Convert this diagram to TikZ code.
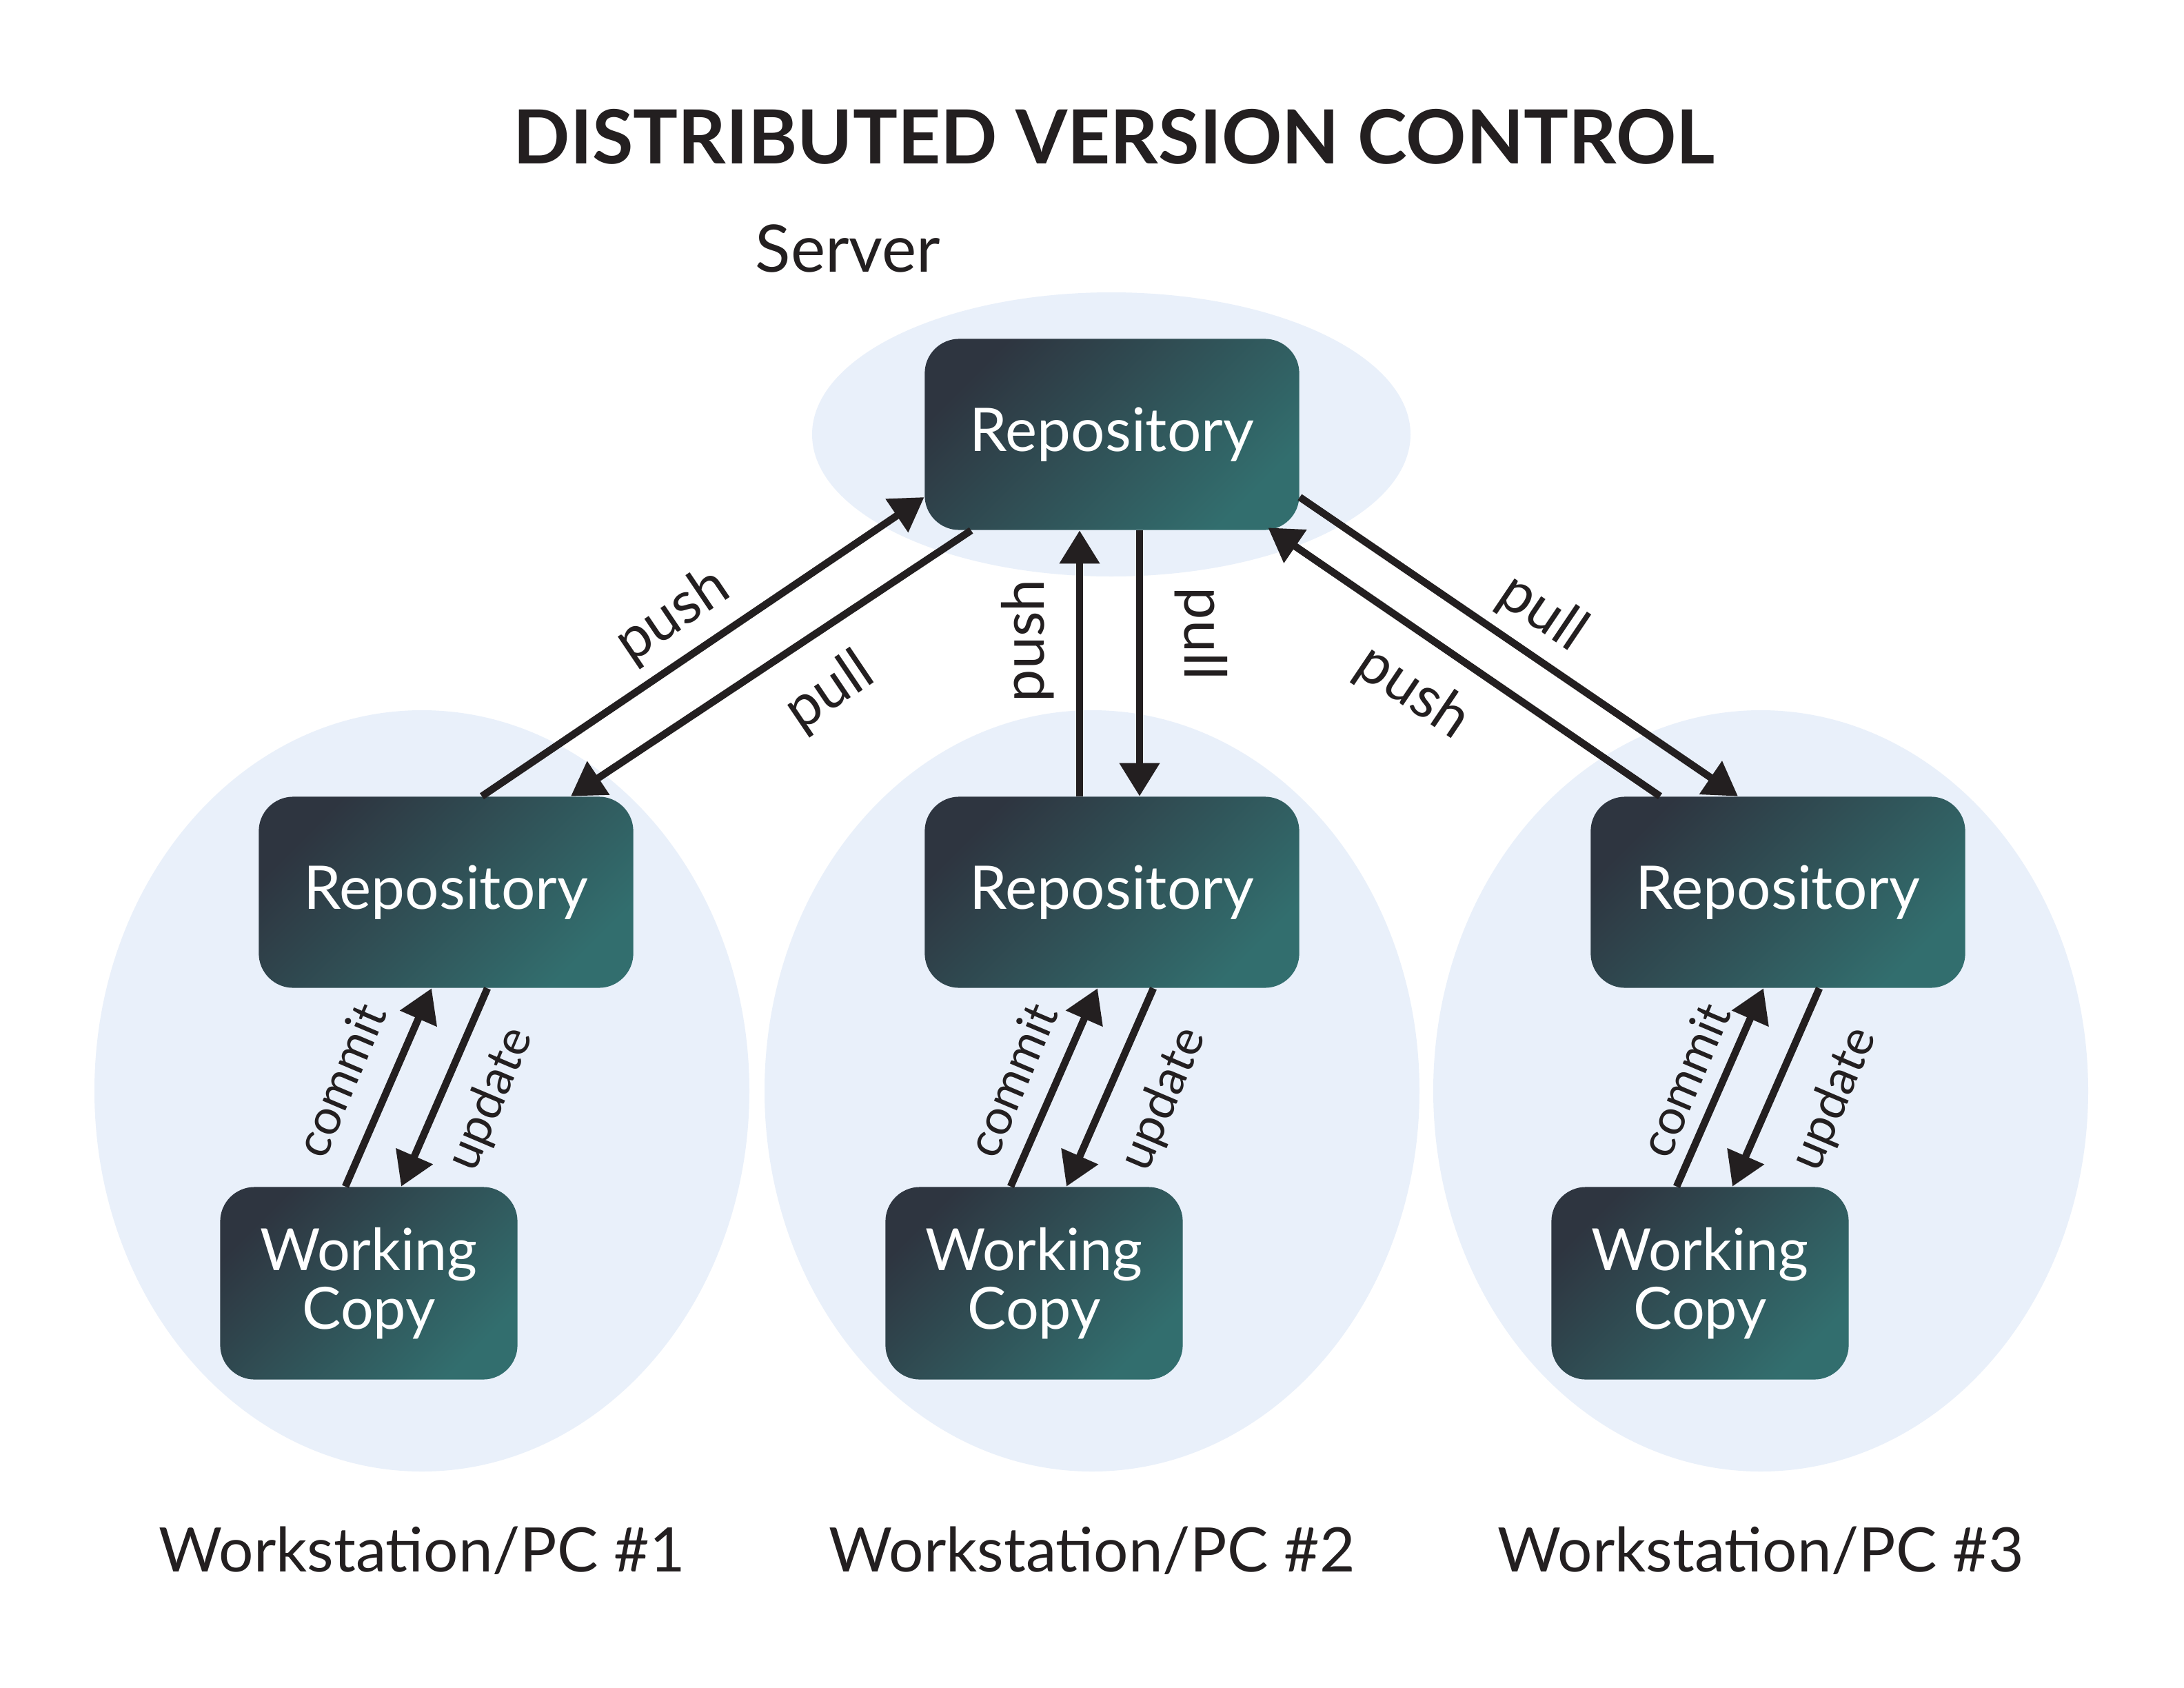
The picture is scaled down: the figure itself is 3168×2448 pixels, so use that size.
\documentclass[tikz,border=0pt]{standalone}
\usepackage{fontspec}
\setmainfont{Lato}
\usetikzlibrary{arrows.meta,calc}
\definecolor{ink}{HTML}{231F20}
\definecolor{halo}{HTML}{E9F0FA}
\definecolor{boxdark}{HTML}{2E3540}
\definecolor{boxteal}{HTML}{326E6E}
\tikzset{
  repobox/.style={rounded corners=0.5cm, minimum width=5.43cm, minimum height=2.77cm,
    top color=boxdark, middle color=boxteal!82!boxdark, bottom color=boxteal, shading angle=45,
    text=white, font=\fontsize{24.8}{26}\selectfont, inner sep=0pt},
  wcbox/.style={repobox, minimum width=4.31cm, minimum height=2.79cm, align=center,
    font=\fontsize{24}{24}\selectfont},
  zone/.style={fill=halo, draw=none},
  flow/.style={draw=ink, line width=3pt, -{Triangle[length=0.48cm,width=0.56cm]}},
  flowlbl/.style={text=ink, font=\fontsize{24}{26}\selectfont, inner sep=0pt},
  vcslbl/.style={flowlbl, font=\fontsize{20.2}{22}\selectfont},
  caption/.style={text=ink, font=\fontsize{25.3}{28}\selectfont, inner sep=0pt}
}
\begin{document}
\begin{tikzpicture}[x=0.01cm,y=-0.01cm]
\useasboundingbox[fill=white] (0,0) rectangle (3168,2448);
% zones
\fill[zone] (1612,630) ellipse [x radius=434, y radius=206];
\fill[zone] (612,1582) ellipse [x radius=475, y radius=552];
\fill[zone] (1584,1582) ellipse [x radius=475, y radius=552];
\fill[zone] (2554,1582) ellipse [x radius=475, y radius=552];
% title
\node[text=ink, font=\fontsize{30.8}{34}\bfseries\selectfont] (title) at (1616,198) {DISTRIBUTED VERSION CONTROL};
\node[caption, font=\fontsize{27}{30}\selectfont] (srvlbl) at (1230,360) {Server};
% boxes
\node[repobox] (srv) at (1613,630) {Repository};
\node[repobox] (r1) at (647,1294) {Repository};
\node[repobox] (r2) at (1613,1294) {Repository};
\node[repobox] (r3) at (2579,1294) {Repository};
\node[wcbox] (w1) at (535,1861) {Working\\Copy};
\node[wcbox] (w2) at (1500,1861) {Working\\Copy};
\node[wcbox] (w3) at (2466,1861) {Working\\Copy};
% captions
\node[caption] (c1) at (612,2249) {Workstation/PC \#1};
\node[caption] (c2) at (1584,2249) {Workstation/PC \#2};
\node[caption] (c3) at (2554,2249) {Workstation/PC \#3};
% server <-> repos
\draw[flow] ($(r1.north)+(52,0)$) -- ($(srv.west)+(0,91)$);
\draw[flow] ($(srv.south west)+(68,0)$) -- ($(r1.north)+(181,0)$);
\draw[flow] ($(r2.north)+(-47,0)$) -- ($(srv.south)+(-47,0)$);
\draw[flow] ($(srv.south)+(40,0)$) -- ($(r2.north)+(40,0)$);
\draw[flow] ($(r3.north)+(-171,0)$) -- ($(srv.south east)+(-46,-4)$);
\draw[flow] ($(srv.east)+(0,91)$) -- ($(r3.north)+(-58,0)$);
% repo <-> working copy
\foreach \r/\w in {r1/w1,r2/w2,r3/w3}{
  \draw[flow] ($(\w.north)+(-34,0)$) -- ($(\r.south)+(-21,0)$);
  \draw[flow] ($(\r.south)+(60,0)$) -- ($(\w.north)+(47,0)$);
}
% labels
\node[flowlbl, rotate=34] (lp1) at (976,893) {push};
\node[flowlbl, rotate=34] (ll1) at (1204,1004) {pull};
\node[flowlbl, rotate=90] (lp2) at (1491,929) {push};
\node[flowlbl, rotate=-90] (ll2) at (1742,919) {pull};
\node[flowlbl, rotate=-34] (ll3) at (2237,889) {pull};
\node[flowlbl, rotate=-34] (lp3) at (2049,1004) {push};
\node[vcslbl, rotate=67] (cm1) at (493,1566) {commit};
\node[vcslbl, rotate=67] (up1) at (712,1594) {update};
\node[vcslbl, rotate=67] (cm2) at (1467,1566) {commit};
\node[vcslbl, rotate=67] (up2) at (1688,1594) {update};
\node[vcslbl, rotate=67] (cm3) at (2443,1566) {commit};
\node[vcslbl, rotate=67] (up3) at (2661,1594) {update};
\end{tikzpicture}
\end{document}
